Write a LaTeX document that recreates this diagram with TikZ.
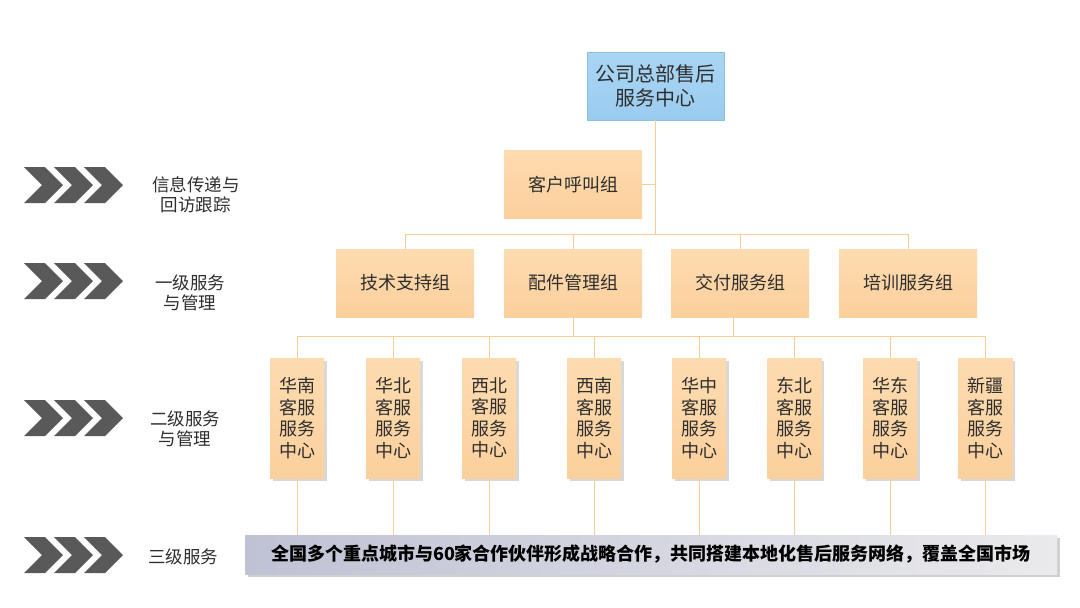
\documentclass[tikz,border=0pt]{standalone}
\usepackage{fontspec}
\setmainfont{Noto Sans CJK SC}
\usetikzlibrary{shadows}
\definecolor{chevgray}{HTML}{595959}
\definecolor{txt}{HTML}{2E2E2E}
\definecolor{peachtop}{HTML}{FDDBB0}
\definecolor{peachbot}{HTML}{FBD09C}
\definecolor{bluetop}{HTML}{AAD5F3}
\definecolor{bluebot}{HTML}{9ACCEF}
\definecolor{blueline}{HTML}{8CBFE3}
\definecolor{connc}{HTML}{F7CD95}
\definecolor{barleft}{HTML}{BFC2D4}
\definecolor{barright}{HTML}{EAEAEC}
\tikzset{
  chev/.style={fill=chevgray},
  lbl/.style={anchor=west, align=center, text=txt, inner sep=0pt,
    font=\fontsize{17.5pt}{20pt}\selectfont},
  topbox/.style={draw=blueline, line width=0.6pt, top color=bluetop, bottom color=bluebot,
    minimum width=137pt, minimum height=68pt, inner sep=0pt, align=center, text=txt,
    font=\fontsize{20pt}{24pt}\selectfont},
  grpbox/.style={top color=peachtop, bottom color=peachbot,
    minimum width=138pt, minimum height=68pt, inner sep=0pt, align=center, text=txt,
    font=\fontsize{18pt}{21pt}\selectfont},
  regbox/.style={top color=peachtop, bottom color=peachbot,
    minimum width=54pt, minimum height=120pt, inner sep=0pt, align=center, text=txt,
    font=\fontsize{18pt}{21.5pt}\selectfont,
    drop shadow={shadow xshift=2.5pt, shadow yshift=-2.5pt, opacity=0.25, fill=black!60}},
  barbox/.style={left color=barleft, right color=barright,
    minimum width=812pt, minimum height=39pt, inner sep=0pt, text=black,
    font=\fontsize{18pt}{22pt}\selectfont\bfseries,
    drop shadow={shadow xshift=2.5pt, shadow yshift=-2.5pt, opacity=0.3, fill=black!60}},
  conn/.style={draw=connc, line width=1pt}
}
\begin{document}
\begin{tikzpicture}[x=1pt,y=-1pt]
\useasboundingbox (0,0) rectangle (1080,608);
\fill[white] (0,0) rectangle (1080,608);

% chevrons
\foreach \r in {185,281,418,555}{
  \foreach \x in {24,54,84}{
    \fill[chev] (\x,\r-18) -- (\x+21,\r-18) -- (\x+39,\r) -- (\x+21,\r+18) -- (\x,\r+18) -- (\x+18,\r) -- cycle;
  }
}

% left labels
\node[lbl] (t1) at (152,195) {信息传递与\\回访跟踪};
\node[lbl] (t2) at (155,293) {一级服务\\与管理};
\node[lbl] (t3) at (150,429) {二级服务\\与管理};
\node[lbl] (t4) at (148,557) {三级服务};

% top
\node[topbox] (top) at (655.5,86) {公司总部售后\\服务中心};
\node[grpbox] (call) at (573,184.5) {客户呼叫组};

% level 1
\node[grpbox] (g1) at (405,283) {技术支持组};
\node[grpbox] (g2) at (573,283) {配件管理组};
\node[grpbox] (g3) at (740,283) {交付服务组};
\node[grpbox] (g4) at (908,283) {培训服务组};

% level 2
\node[regbox] (r1) at (297,418) {华南\\客服\\服务\\中心};
\node[regbox] (r2) at (393,418) {华北\\客服\\服务\\中心};
\node[regbox] (r3) at (489,418) {西北\\客服\\服务\\中心};
\node[regbox] (r4) at (594,418) {西南\\客服\\服务\\中心};
\node[regbox] (r5) at (699,418) {华中\\客服\\服务\\中心};
\node[regbox] (r6) at (794.5,418) {东北\\客服\\服务\\中心};
\node[regbox] (r7) at (890,418) {华东\\客服\\服务\\中心};
\node[regbox] (r8) at (985.5,418) {新疆\\客服\\服务\\中心};

% bar
\node[barbox] (bar) at (651,554.5) {全国多个重点城市与60家合作伙伴形成战略合作，共同搭建本地化售后服务网络，覆盖全国市场};

% connectors
\coordinate (hub) at (655.5,234);
\coordinate (bus) at (0,336);
\draw[conn] (top.south) -- (hub);
\draw[conn] (call.east) -- (call.east -| hub);
\draw[conn] (g1.north |- hub) -- (g4.north |- hub);
\foreach \g in {g1,g2,g3,g4}{
  \draw[conn] (\g.north) -- (\g.north |- hub);
}
\draw[conn] (g2.south) -- (g2.south |- bus);
\draw[conn] ([xshift=-7pt]g3.south) -- ([xshift=-7pt]g3.south |- bus);
\draw[conn] (r1.north |- bus) -- (r8.north |- bus);
\foreach \r in {r1,r2,r3,r4,r5,r6,r7,r8}{
  \draw[conn] (\r.north) -- (\r.north |- bus);
  \draw[conn] (\r.south) -- (\r.south |- bar.north);
}
\end{tikzpicture}
\end{document}
